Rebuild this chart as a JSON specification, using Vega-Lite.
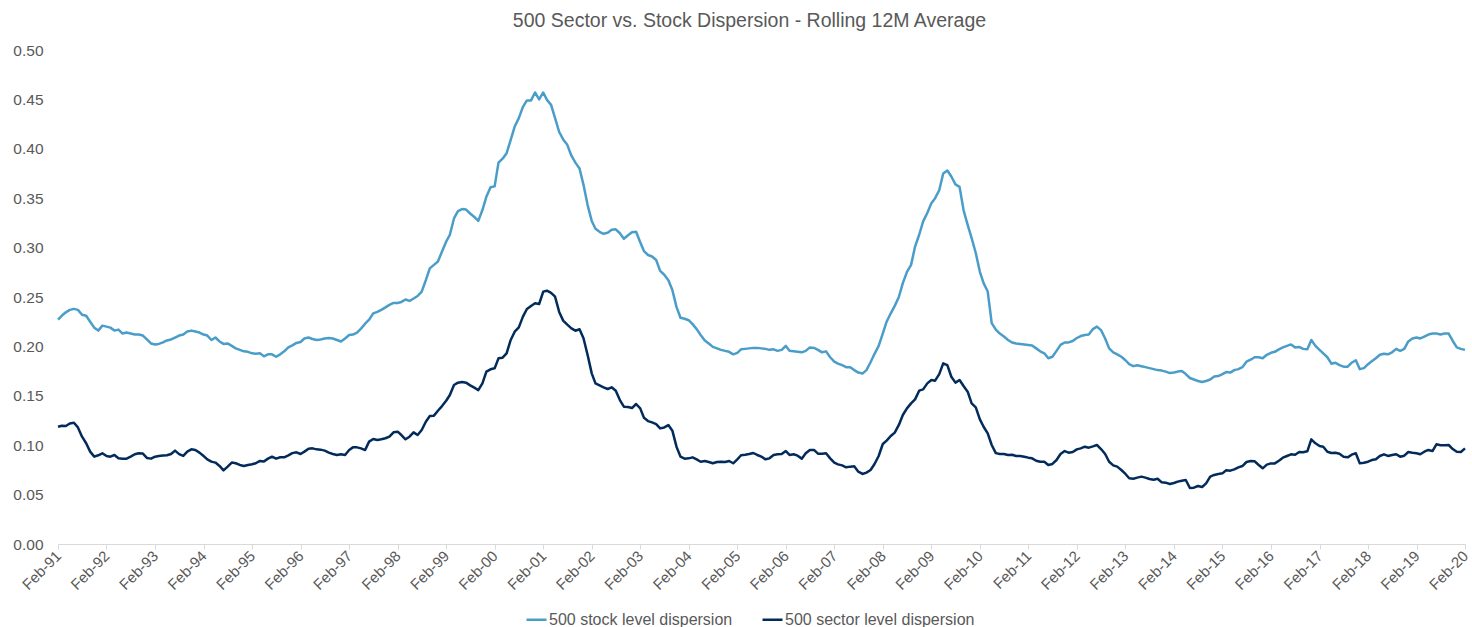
{
  "$schema": "https://vega.github.io/schema/vega-lite/v6.json",
  "width": 1407,
  "height": 494,
  "autosize": {"type": "none"},
  "padding": {"left": 58, "top": 50, "right": 7, "bottom": 83},
  "background": "white",
  "config": {"view": {"stroke": null}, "font": "Liberation Sans"},
  "title": {"text": "500 Sector vs. Stock Dispersion - Rolling 12M Average", "fontSize": 19.5, "fontWeight": "normal", "color": "#595959", "font": "Liberation Sans", "anchor": "middle", "offset": 12, "dx": -12},
  "data": {"values": [
{"d":"1991-02-01","a":0.227,"b":0.1187},{"d":"1991-03-01","a":0.231,"b":0.1197},{"d":"1991-04-01","a":0.2345,"b":0.1194},{"d":"1991-05-01","a":0.237,"b":0.122},{"d":"1991-06-01","a":0.238,"b":0.1227},{"d":"1991-07-01","a":0.237,"b":0.118},{"d":"1991-08-01","a":0.232,"b":0.1086},{"d":"1991-09-01","a":0.231,"b":0.102},{"d":"1991-10-01","a":0.225,"b":0.0935},{"d":"1991-11-01","a":0.219,"b":0.0884},{"d":"1991-12-01","a":0.216,"b":0.0898},
{"d":"1992-01-01","a":0.221,"b":0.0918},{"d":"1992-02-01","a":0.22,"b":0.0891},{"d":"1992-03-01","a":0.219,"b":0.0884},{"d":"1992-04-01","a":0.216,"b":0.0901},{"d":"1992-05-01","a":0.217,"b":0.0868},{"d":"1992-06-01","a":0.213,"b":0.0864},{"d":"1992-07-01","a":0.214,"b":0.0864},{"d":"1992-08-01","a":0.213,"b":0.0884},{"d":"1992-09-01","a":0.212,"b":0.0908},{"d":"1992-10-01","a":0.212,"b":0.0918},{"d":"1992-11-01","a":0.211,"b":0.0915},{"d":"1992-12-01","a":0.207,"b":0.0871},
{"d":"1993-01-01","a":0.203,"b":0.0864},{"d":"1993-02-01","a":0.202,"b":0.0884},{"d":"1993-03-01","a":0.2025,"b":0.0891},{"d":"1993-04-01","a":0.204,"b":0.0895},{"d":"1993-05-01","a":0.206,"b":0.0898},{"d":"1993-06-01","a":0.207,"b":0.0911},{"d":"1993-07-01","a":0.209,"b":0.0945},{"d":"1993-08-01","a":0.211,"b":0.091},{"d":"1993-09-01","a":0.212,"b":0.0891},{"d":"1993-10-01","a":0.215,"b":0.0935},{"d":"1993-11-01","a":0.216,"b":0.0958},{"d":"1993-12-01","a":0.215,"b":0.0952},
{"d":"1994-01-01","a":0.214,"b":0.0925},{"d":"1994-02-01","a":0.212,"b":0.089},{"d":"1994-03-01","a":0.211,"b":0.0857},{"d":"1994-04-01","a":0.2065,"b":0.0834},{"d":"1994-05-01","a":0.209,"b":0.0824},{"d":"1994-06-01","a":0.205,"b":0.079},{"d":"1994-07-01","a":0.2025,"b":0.0745},{"d":"1994-08-01","a":0.203,"b":0.0783},{"d":"1994-09-01","a":0.2005,"b":0.0824},{"d":"1994-10-01","a":0.198,"b":0.0817},{"d":"1994-11-01","a":0.1965,"b":0.08},{"d":"1994-12-01","a":0.195,"b":0.079},
{"d":"1995-01-01","a":0.1945,"b":0.08},{"d":"1995-02-01","a":0.193,"b":0.0807},{"d":"1995-03-01","a":0.1925,"b":0.0817},{"d":"1995-04-01","a":0.193,"b":0.0841},{"d":"1995-05-01","a":0.19,"b":0.0834},{"d":"1995-06-01","a":0.192,"b":0.0864},{"d":"1995-07-01","a":0.192,"b":0.0884},{"d":"1995-08-01","a":0.1895,"b":0.0864},{"d":"1995-09-01","a":0.192,"b":0.0878},{"d":"1995-10-01","a":0.195,"b":0.0878},{"d":"1995-11-01","a":0.199,"b":0.0898},{"d":"1995-12-01","a":0.201,"b":0.092},
{"d":"1996-01-01","a":0.2035,"b":0.0928},{"d":"1996-02-01","a":0.2045,"b":0.0911},{"d":"1996-03-01","a":0.208,"b":0.0935},{"d":"1996-04-01","a":0.209,"b":0.0965},{"d":"1996-05-01","a":0.2075,"b":0.0968},{"d":"1996-06-01","a":0.2065,"b":0.0958},{"d":"1996-07-01","a":0.207,"b":0.0955},{"d":"1996-08-01","a":0.208,"b":0.0945},{"d":"1996-09-01","a":0.2085,"b":0.0925},{"d":"1996-10-01","a":0.208,"b":0.0911},{"d":"1996-11-01","a":0.2065,"b":0.0901},{"d":"1996-12-01","a":0.205,"b":0.0908},
{"d":"1997-01-01","a":0.208,"b":0.0901},{"d":"1997-02-01","a":0.2115,"b":0.0951},{"d":"1997-03-01","a":0.212,"b":0.0978},{"d":"1997-04-01","a":0.214,"b":0.0978},{"d":"1997-05-01","a":0.218,"b":0.0968},{"d":"1997-06-01","a":0.223,"b":0.0951},{"d":"1997-07-01","a":0.227,"b":0.1036},{"d":"1997-08-01","a":0.2335,"b":0.1063},{"d":"1997-09-01","a":0.235,"b":0.1053},{"d":"1997-10-01","a":0.237,"b":0.106},{"d":"1997-11-01","a":0.2395,"b":0.107},{"d":"1997-12-01","a":0.242,"b":0.1086},
{"d":"1998-01-01","a":0.244,"b":0.113},{"d":"1998-02-01","a":0.244,"b":0.1137},{"d":"1998-03-01","a":0.245,"b":0.1103},{"d":"1998-04-01","a":0.2475,"b":0.106},{"d":"1998-05-01","a":0.246,"b":0.1086},{"d":"1998-06-01","a":0.2485,"b":0.113},{"d":"1998-07-01","a":0.251,"b":0.1103},{"d":"1998-08-01","a":0.2555,"b":0.1154},{"d":"1998-09-01","a":0.267,"b":0.1238},{"d":"1998-10-01","a":0.279,"b":0.1295},{"d":"1998-11-01","a":0.2825,"b":0.1299},{"d":"1998-12-01","a":0.286,"b":0.1349},
{"d":"1999-01-01","a":0.296,"b":0.1396},{"d":"1999-02-01","a":0.306,"b":0.145},{"d":"1999-03-01","a":0.313,"b":0.1508},{"d":"1999-04-01","a":0.3295,"b":0.1609},{"d":"1999-05-01","a":0.337,"b":0.1633},{"d":"1999-06-01","a":0.339,"b":0.1639},{"d":"1999-07-01","a":0.3385,"b":0.1633},{"d":"1999-08-01","a":0.3345,"b":0.1606},{"d":"1999-09-01","a":0.331,"b":0.1582},{"d":"1999-10-01","a":0.327,"b":0.1558},{"d":"1999-11-01","a":0.338,"b":0.1626},{"d":"1999-12-01","a":0.3515,"b":0.1744},
{"d":"2000-01-01","a":0.361,"b":0.1768},{"d":"2000-02-01","a":0.362,"b":0.1778},{"d":"2000-03-01","a":0.386,"b":0.1879},{"d":"2000-04-01","a":0.39,"b":0.1886},{"d":"2000-05-01","a":0.3955,"b":0.193},{"d":"2000-06-01","a":0.409,"b":0.2065},{"d":"2000-07-01","a":0.4225,"b":0.2149},{"d":"2000-08-01","a":0.431,"b":0.2193},{"d":"2000-09-01","a":0.4425,"b":0.2301},{"d":"2000-10-01","a":0.449,"b":0.2379},{"d":"2000-11-01","a":0.449,"b":0.2409},{"d":"2000-12-01","a":0.457,"b":0.2436},
{"d":"2001-01-01","a":0.45,"b":0.2429},{"d":"2001-02-01","a":0.457,"b":0.2554},{"d":"2001-03-01","a":0.4495,"b":0.2564},{"d":"2001-04-01","a":0.4445,"b":0.2541},{"d":"2001-05-01","a":0.431,"b":0.2503},{"d":"2001-06-01","a":0.417,"b":0.2349},{"d":"2001-07-01","a":0.4095,"b":0.2261},{"d":"2001-08-01","a":0.404,"b":0.222},{"d":"2001-09-01","a":0.393,"b":0.2183},{"d":"2001-10-01","a":0.386,"b":0.2159},{"d":"2001-11-01","a":0.38,"b":0.2173},{"d":"2001-12-01","a":0.3635,"b":0.2082},
{"d":"2002-01-01","a":0.343,"b":0.1913},{"d":"2002-02-01","a":0.327,"b":0.1727},{"d":"2002-03-01","a":0.319,"b":0.1626},{"d":"2002-04-01","a":0.316,"b":0.1606},{"d":"2002-05-01","a":0.314,"b":0.1586},{"d":"2002-06-01","a":0.315,"b":0.1569},{"d":"2002-07-01","a":0.318,"b":0.1586},{"d":"2002-08-01","a":0.3185,"b":0.1552},{"d":"2002-09-01","a":0.3145,"b":0.1457},{"d":"2002-10-01","a":0.309,"b":0.139},{"d":"2002-11-01","a":0.3125,"b":0.1387},{"d":"2002-12-01","a":0.3155,"b":0.1376},
{"d":"2003-01-01","a":0.316,"b":0.1417},{"d":"2003-02-01","a":0.3055,"b":0.1373},{"d":"2003-03-01","a":0.2965,"b":0.1278},{"d":"2003-04-01","a":0.2925,"b":0.1244},{"d":"2003-05-01","a":0.291,"b":0.1231},{"d":"2003-06-01","a":0.2875,"b":0.1214},{"d":"2003-07-01","a":0.2765,"b":0.117},{"d":"2003-08-01","a":0.2725,"b":0.118},{"d":"2003-09-01","a":0.267,"b":0.1204},{"d":"2003-10-01","a":0.257,"b":0.1147},{"d":"2003-11-01","a":0.24,"b":0.0985},{"d":"2003-12-01","a":0.229,"b":0.0884},
{"d":"2004-01-01","a":0.228,"b":0.0864},{"d":"2004-02-01","a":0.2265,"b":0.0867},{"d":"2004-03-01","a":0.2225,"b":0.0877},{"d":"2004-04-01","a":0.2175,"b":0.0857},{"d":"2004-05-01","a":0.2115,"b":0.0833},{"d":"2004-06-01","a":0.206,"b":0.084},{"d":"2004-07-01","a":0.203,"b":0.083},{"d":"2004-08-01","a":0.1995,"b":0.0817},{"d":"2004-09-01","a":0.198,"b":0.083},{"d":"2004-10-01","a":0.1965,"b":0.0833},{"d":"2004-11-01","a":0.1955,"b":0.083},{"d":"2004-12-01","a":0.1945,"b":0.084},
{"d":"2005-01-01","a":0.192,"b":0.0817},{"d":"2005-02-01","a":0.1935,"b":0.0857},{"d":"2005-03-01","a":0.197,"b":0.0898},{"d":"2005-04-01","a":0.1975,"b":0.0904},{"d":"2005-05-01","a":0.198,"b":0.0911},{"d":"2005-06-01","a":0.1985,"b":0.0921},{"d":"2005-07-01","a":0.1985,"b":0.0901},{"d":"2005-08-01","a":0.198,"b":0.0884},{"d":"2005-09-01","a":0.1975,"b":0.0857},{"d":"2005-10-01","a":0.1965,"b":0.0867},{"d":"2005-11-01","a":0.197,"b":0.0901},{"d":"2005-12-01","a":0.1955,"b":0.0908},
{"d":"2006-01-01","a":0.1965,"b":0.0911},{"d":"2006-02-01","a":0.2005,"b":0.0941},{"d":"2006-03-01","a":0.1955,"b":0.0901},{"d":"2006-04-01","a":0.195,"b":0.0908},{"d":"2006-05-01","a":0.1945,"b":0.0894},{"d":"2006-06-01","a":0.194,"b":0.0864},{"d":"2006-07-01","a":0.1955,"b":0.0918},{"d":"2006-08-01","a":0.199,"b":0.0952},{"d":"2006-09-01","a":0.1985,"b":0.0952},{"d":"2006-10-01","a":0.1965,"b":0.0914},{"d":"2006-11-01","a":0.194,"b":0.0914},{"d":"2006-12-01","a":0.195,"b":0.0918},
{"d":"2007-01-01","a":0.189,"b":0.0867},{"d":"2007-02-01","a":0.1845,"b":0.0823},{"d":"2007-03-01","a":0.1825,"b":0.0806},{"d":"2007-04-01","a":0.181,"b":0.0796},{"d":"2007-05-01","a":0.179,"b":0.0776},{"d":"2007-06-01","a":0.179,"b":0.0783},{"d":"2007-07-01","a":0.176,"b":0.0786},{"d":"2007-08-01","a":0.1735,"b":0.0732},{"d":"2007-09-01","a":0.1725,"b":0.0709},{"d":"2007-10-01","a":0.176,"b":0.0722},{"d":"2007-11-01","a":0.184,"b":0.0749},{"d":"2007-12-01","a":0.1925,"b":0.081},
{"d":"2008-01-01","a":0.2005,"b":0.0891},{"d":"2008-02-01","a":0.213,"b":0.1012},{"d":"2008-03-01","a":0.225,"b":0.1046},{"d":"2008-04-01","a":0.2335,"b":0.1093},{"d":"2008-05-01","a":0.241,"b":0.1127},{"d":"2008-06-01","a":0.25,"b":0.1205},{"d":"2008-07-01","a":0.264,"b":0.1306},{"d":"2008-08-01","a":0.2755,"b":0.1373},{"d":"2008-09-01","a":0.2825,"b":0.1423},{"d":"2008-10-01","a":0.301,"b":0.1464},{"d":"2008-11-01","a":0.313,"b":0.1552},{"d":"2008-12-01","a":0.3265,"b":0.1565},
{"d":"2009-01-01","a":0.335,"b":0.1626},{"d":"2009-02-01","a":0.345,"b":0.166},{"d":"2009-03-01","a":0.35,"b":0.1653},{"d":"2009-04-01","a":0.358,"b":0.172},{"d":"2009-05-01","a":0.375,"b":0.1828},{"d":"2009-06-01","a":0.378,"b":0.1811},{"d":"2009-07-01","a":0.372,"b":0.1693},{"d":"2009-08-01","a":0.364,"b":0.1633},{"d":"2009-09-01","a":0.3615,"b":0.166},{"d":"2009-10-01","a":0.338,"b":0.1599},{"d":"2009-11-01","a":0.323,"b":0.1542},{"d":"2009-12-01","a":0.3095,"b":0.1423},
{"d":"2010-01-01","a":0.2945,"b":0.1383},{"d":"2010-02-01","a":0.2755,"b":0.1261},{"d":"2010-03-01","a":0.264,"b":0.1187},{"d":"2010-04-01","a":0.2555,"b":0.112},{"d":"2010-05-01","a":0.2235,"b":0.1002},{"d":"2010-06-01","a":0.217,"b":0.092},{"d":"2010-07-01","a":0.213,"b":0.0911},{"d":"2010-08-01","a":0.21,"b":0.0911},{"d":"2010-09-01","a":0.2065,"b":0.0901},{"d":"2010-10-01","a":0.204,"b":0.0904},{"d":"2010-11-01","a":0.203,"b":0.0891},{"d":"2010-12-01","a":0.2025,"b":0.0891},
{"d":"2011-01-01","a":0.202,"b":0.0884},{"d":"2011-02-01","a":0.2015,"b":0.0874},{"d":"2011-03-01","a":0.201,"b":0.0867},{"d":"2011-04-01","a":0.198,"b":0.0843},{"d":"2011-05-01","a":0.195,"b":0.0833},{"d":"2011-06-01","a":0.193,"b":0.0833},{"d":"2011-07-01","a":0.188,"b":0.08},{"d":"2011-08-01","a":0.1895,"b":0.081},{"d":"2011-09-01","a":0.1955,"b":0.085},{"d":"2011-10-01","a":0.2015,"b":0.0911},{"d":"2011-11-01","a":0.204,"b":0.0941},{"d":"2011-12-01","a":0.204,"b":0.0924},
{"d":"2012-01-01","a":0.2055,"b":0.0931},{"d":"2012-02-01","a":0.2085,"b":0.0958},{"d":"2012-03-01","a":0.2105,"b":0.0968},{"d":"2012-04-01","a":0.2115,"b":0.0985},{"d":"2012-05-01","a":0.212,"b":0.0975},{"d":"2012-06-01","a":0.2175,"b":0.0988},{"d":"2012-07-01","a":0.22,"b":0.1002},{"d":"2012-08-01","a":0.2165,"b":0.0961},{"d":"2012-09-01","a":0.208,"b":0.0911},{"d":"2012-10-01","a":0.198,"b":0.0833},{"d":"2012-11-01","a":0.194,"b":0.0796},{"d":"2012-12-01","a":0.192,"b":0.0783},
{"d":"2013-01-01","a":0.1895,"b":0.0749},{"d":"2013-02-01","a":0.186,"b":0.0709},{"d":"2013-03-01","a":0.182,"b":0.0665},{"d":"2013-04-01","a":0.18,"b":0.0661},{"d":"2013-05-01","a":0.181,"b":0.0672},{"d":"2013-06-01","a":0.18,"b":0.0682},{"d":"2013-07-01","a":0.179,"b":0.0672},{"d":"2013-08-01","a":0.178,"b":0.0658},{"d":"2013-09-01","a":0.177,"b":0.0651},{"d":"2013-10-01","a":0.176,"b":0.0661},{"d":"2013-11-01","a":0.1755,"b":0.0624},{"d":"2013-12-01","a":0.1745,"b":0.0621},
{"d":"2014-01-01","a":0.173,"b":0.0607},{"d":"2014-02-01","a":0.1735,"b":0.0617},{"d":"2014-03-01","a":0.1745,"b":0.0631},{"d":"2014-04-01","a":0.175,"b":0.0641},{"d":"2014-05-01","a":0.172,"b":0.0648},{"d":"2014-06-01","a":0.168,"b":0.0567},{"d":"2014-07-01","a":0.1665,"b":0.057},{"d":"2014-08-01","a":0.165,"b":0.0587},{"d":"2014-09-01","a":0.164,"b":0.0577},{"d":"2014-10-01","a":0.165,"b":0.0614},{"d":"2014-11-01","a":0.1665,"b":0.0682},{"d":"2014-12-01","a":0.1695,"b":0.0699},
{"d":"2015-01-01","a":0.17,"b":0.0709},{"d":"2015-02-01","a":0.172,"b":0.0715},{"d":"2015-03-01","a":0.174,"b":0.0746},{"d":"2015-04-01","a":0.1735,"b":0.0742},{"d":"2015-05-01","a":0.176,"b":0.0756},{"d":"2015-06-01","a":0.177,"b":0.0776},{"d":"2015-07-01","a":0.179,"b":0.0789},{"d":"2015-08-01","a":0.1845,"b":0.083},{"d":"2015-09-01","a":0.1865,"b":0.084},{"d":"2015-10-01","a":0.189,"b":0.0837},{"d":"2015-11-01","a":0.189,"b":0.08},{"d":"2015-12-01","a":0.188,"b":0.0766},
{"d":"2016-01-01","a":0.1915,"b":0.0803},{"d":"2016-02-01","a":0.1935,"b":0.0816},{"d":"2016-03-01","a":0.1945,"b":0.0816},{"d":"2016-04-01","a":0.197,"b":0.0843},{"d":"2016-05-01","a":0.199,"b":0.0874},{"d":"2016-06-01","a":0.2005,"b":0.0891},{"d":"2016-07-01","a":0.202,"b":0.0908},{"d":"2016-08-01","a":0.199,"b":0.0904},{"d":"2016-09-01","a":0.1995,"b":0.0931},{"d":"2016-10-01","a":0.1975,"b":0.0928},{"d":"2016-11-01","a":0.197,"b":0.0938},{"d":"2016-12-01","a":0.2065,"b":0.1059},
{"d":"2017-01-01","a":0.2005,"b":0.1019},{"d":"2017-02-01","a":0.1965,"b":0.0992},{"d":"2017-03-01","a":0.193,"b":0.0985},{"d":"2017-04-01","a":0.189,"b":0.0934},{"d":"2017-05-01","a":0.1825,"b":0.0921},{"d":"2017-06-01","a":0.1835,"b":0.0924},{"d":"2017-07-01","a":0.181,"b":0.0914},{"d":"2017-08-01","a":0.1795,"b":0.0884},{"d":"2017-09-01","a":0.1795,"b":0.0877},{"d":"2017-10-01","a":0.1835,"b":0.0904},{"d":"2017-11-01","a":0.186,"b":0.0918},{"d":"2017-12-01","a":0.177,"b":0.0816},
{"d":"2018-01-01","a":0.178,"b":0.0823},{"d":"2018-02-01","a":0.182,"b":0.0833},{"d":"2018-03-01","a":0.185,"b":0.085},{"d":"2018-04-01","a":0.188,"b":0.0857},{"d":"2018-05-01","a":0.1915,"b":0.0891},{"d":"2018-06-01","a":0.1925,"b":0.0908},{"d":"2018-07-01","a":0.192,"b":0.0891},{"d":"2018-08-01","a":0.194,"b":0.0901},{"d":"2018-09-01","a":0.1975,"b":0.0908},{"d":"2018-10-01","a":0.1955,"b":0.0884},{"d":"2018-11-01","a":0.1975,"b":0.0894},{"d":"2018-12-01","a":0.205,"b":0.0931},
{"d":"2019-01-01","a":0.208,"b":0.0924},{"d":"2019-02-01","a":0.209,"b":0.0918},{"d":"2019-03-01","a":0.208,"b":0.0908},{"d":"2019-04-01","a":0.21,"b":0.0934},{"d":"2019-05-01","a":0.212,"b":0.0952},{"d":"2019-06-01","a":0.213,"b":0.0941},{"d":"2019-07-01","a":0.213,"b":0.1009},{"d":"2019-08-01","a":0.212,"b":0.0999},{"d":"2019-09-01","a":0.213,"b":0.0999},{"d":"2019-10-01","a":0.213,"b":0.1002},{"d":"2019-11-01","a":0.2055,"b":0.0961},{"d":"2019-12-01","a":0.199,"b":0.0934},
{"d":"2020-01-01","a":0.1975,"b":0.0931},{"d":"2020-02-01","a":0.1965,"b":0.0968}
  ]},
  "transform": [{"fold": ["a", "b"], "as": ["series", "value"]}],
  "mark": {"type": "line", "strokeWidth": 2.5, "strokeJoin": "round"},
  "encoding": {
    "x": {
      "field": "d", "type": "temporal",
      "scale": {"type": "utc", "domain": [{"year": 1991, "month": 2, "date": 1, "utc": true}, {"year": 2020, "month": 2, "date": 1, "utc": true}]},
      "axis": {
        "title": null, "grid": false, "format": "%b-%y",
        "values": [
          {"year":1991,"month":2,"date":1,"utc":true},{"year":1992,"month":2,"date":1,"utc":true},{"year":1993,"month":2,"date":1,"utc":true},{"year":1994,"month":2,"date":1,"utc":true},{"year":1995,"month":2,"date":1,"utc":true},{"year":1996,"month":2,"date":1,"utc":true},{"year":1997,"month":2,"date":1,"utc":true},{"year":1998,"month":2,"date":1,"utc":true},{"year":1999,"month":2,"date":1,"utc":true},{"year":2000,"month":2,"date":1,"utc":true},
          {"year":2001,"month":2,"date":1,"utc":true},{"year":2002,"month":2,"date":1,"utc":true},{"year":2003,"month":2,"date":1,"utc":true},{"year":2004,"month":2,"date":1,"utc":true},{"year":2005,"month":2,"date":1,"utc":true},{"year":2006,"month":2,"date":1,"utc":true},{"year":2007,"month":2,"date":1,"utc":true},{"year":2008,"month":2,"date":1,"utc":true},{"year":2009,"month":2,"date":1,"utc":true},{"year":2010,"month":2,"date":1,"utc":true},
          {"year":2011,"month":2,"date":1,"utc":true},{"year":2012,"month":2,"date":1,"utc":true},{"year":2013,"month":2,"date":1,"utc":true},{"year":2014,"month":2,"date":1,"utc":true},{"year":2015,"month":2,"date":1,"utc":true},{"year":2016,"month":2,"date":1,"utc":true},{"year":2017,"month":2,"date":1,"utc":true},{"year":2018,"month":2,"date":1,"utc":true},{"year":2019,"month":2,"date":1,"utc":true},{"year":2020,"month":2,"date":1,"utc":true}
        ],
        "labelAngle": -45, "labelAlign": "right", "labelBaseline": "middle",
        "labelFontSize": 15, "labelColor": "#595959", "labelFont": "Liberation Sans",
        "labelOverlap": false, "labelFlush": false, "labelBound": false, "labelPadding": 4,
        "domainColor": "#d9d9d9", "domainWidth": 1, "tickColor": "#d9d9d9", "tickSize": 5
      }
    },
    "y": {
      "field": "value", "type": "quantitative",
      "scale": {"domain": [0, 0.5], "nice": false},
      "axis": {
        "title": null, "grid": false, "domain": false, "ticks": false, "tickSize": 0,
        "values": [0, 0.05, 0.1, 0.15, 0.2, 0.25, 0.3, 0.35, 0.4, 0.45, 0.5],
        "format": ".2f", "labelFontSize": 15.5, "labelColor": "#595959", "labelFont": "Liberation Sans", "labelPadding": 15
      }
    },
    "color": {
      "field": "series", "type": "nominal",
      "scale": {"domain": ["a", "b"], "range": ["#4b9dc9", "#022b5b"]},
      "legend": {
        "orient": "none", "legendX": 467, "legendY": 558, "direction": "horizontal", "title": null,
        "labelExpr": "datum.label == 'a' ? '500 stock level dispersion' : '500 sector level dispersion'",
        "symbolType": "stroke", "symbolSize": 400, "symbolStrokeWidth": 2.5,
        "labelFontSize": 16, "labelLimit": 0, "labelColor": "#595959", "labelFont": "Liberation Sans", "labelOffset": 1, "columnPadding": 24
      }
    }
  }
}
